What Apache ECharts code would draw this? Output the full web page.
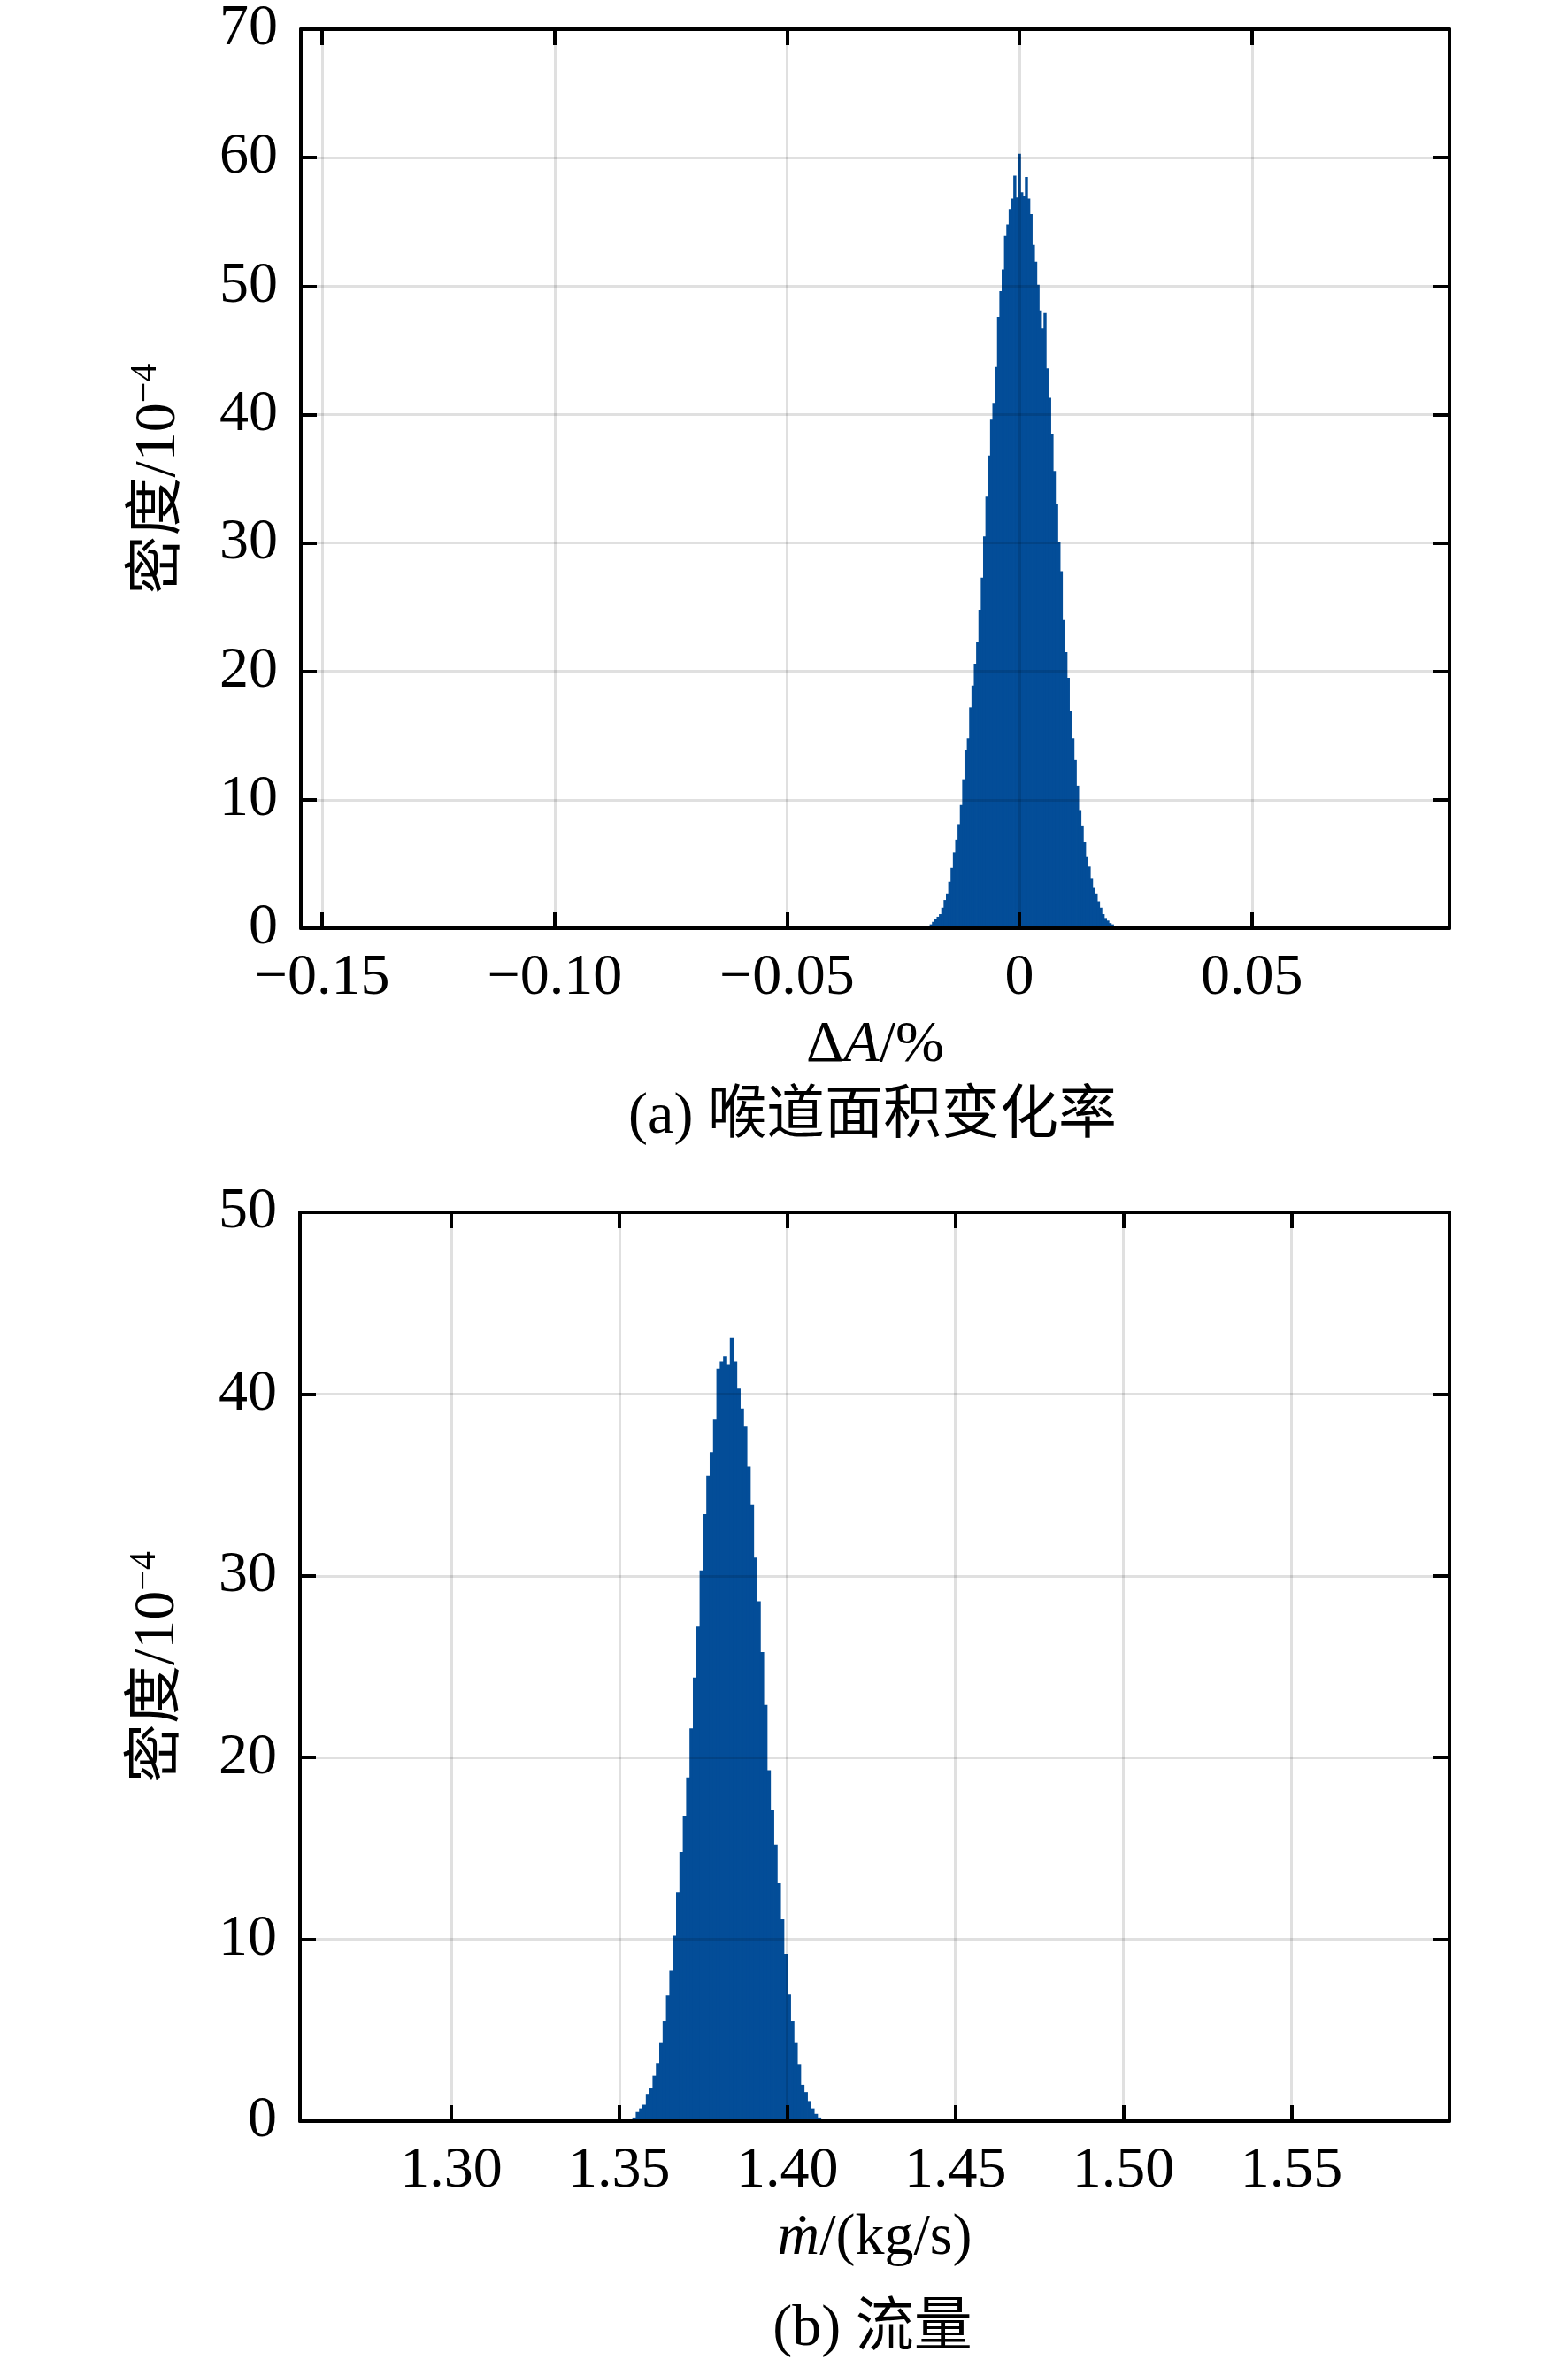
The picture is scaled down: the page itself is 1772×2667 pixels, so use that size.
<!DOCTYPE html>
<html>
<head>
<meta charset="utf-8">
<title>密度直方图</title>
<script src="https://cdn.jsdelivr.net/npm/echarts@6.0.0/dist/echarts.min.js"></script>
<style>
  html, body { margin: 0; padding: 0; background: #fff; }
  #main { width: 1772px; height: 2667px; }
</style>
</head>
<body>
<div id="main"></div>
<script>
// (a) 喉道面积变化率  bin centres (ΔA, %) and density (10^-4)
var areaBinWidth = 0.0005;
var areaCenters = [
  -0.0195, -0.0190, -0.0185, -0.0180, -0.0175, -0.0170, -0.0165, -0.0160, -0.0155, -0.0150,
  -0.0145, -0.0140, -0.0135, -0.0130, -0.0125, -0.0120, -0.0115, -0.0110, -0.0105, -0.0100,
  -0.0095, -0.0090, -0.0085, -0.0080, -0.0075, -0.0070, -0.0065, -0.0060, -0.0055, -0.0050,
  -0.0045, -0.0040, -0.0035, -0.0030, -0.0025, -0.0020, -0.0015, -0.0010, -0.0005, 0.0000,
  0.0005, 0.0010, 0.0015, 0.0020, 0.0025, 0.0030, 0.0035, 0.0040, 0.0045, 0.0050,
  0.0055, 0.0060, 0.0065, 0.0070, 0.0075, 0.0080, 0.0085, 0.0090, 0.0095, 0.0100,
  0.0105, 0.0110, 0.0115, 0.0120, 0.0125, 0.0130, 0.0135, 0.0140, 0.0145, 0.0150,
  0.0155, 0.0160, 0.0165, 0.0170, 0.0175, 0.0180, 0.0185, 0.0190, 0.0195, 0.0200,
  0.0205, 0.0210
];
var areaDensity = [
  0.1, 0.3, 0.5, 0.7, 0.9, 1.1, 1.6, 2.2, 2.7, 3.6,
  4.7, 5.9, 6.9, 8.1, 9.6, 11.6, 13.9, 14.8, 17.2, 18.9,
  20.6, 22.3, 24.8, 27.3, 30.5, 33.6, 36.8, 39.6, 40.9, 43.7,
  47.6, 49.6, 51.3, 53.9, 54.8, 56.0, 56.8, 58.6, 56.9, 60.3,
  57.3, 57.0, 58.5, 56.8, 55.6, 53.2, 51.9, 50.1, 48.1, 46.7,
  47.9, 43.6, 41.3, 38.5, 35.6, 33.0, 30.1, 27.8, 24.0, 21.5,
  19.5, 16.9, 14.8, 13.1, 11.1, 9.2, 8.0, 6.7, 5.6, 4.8,
  3.9, 3.2, 2.7, 2.1, 1.6, 1.1, 0.8, 0.6, 0.4, 0.3,
  0.2, 0.1
];

// (b) 流量  bin centres (kg/s) and density (10^-4)
var flowBinWidth = 0.001;
var flowCenters = [
  1.3545, 1.3555, 1.3565, 1.3575, 1.3585, 1.3595, 1.3605, 1.3615, 1.3625, 1.3635,
  1.3645, 1.3655, 1.3665, 1.3675, 1.3685, 1.3695, 1.3705, 1.3715, 1.3725, 1.3735,
  1.3745, 1.3755, 1.3765, 1.3775, 1.3785, 1.3795, 1.3805, 1.3815, 1.3825, 1.3835,
  1.3845, 1.3855, 1.3865, 1.3875, 1.3885, 1.3895, 1.3905, 1.3915, 1.3925, 1.3935,
  1.3945, 1.3955, 1.3965, 1.3975, 1.3985, 1.3995, 1.4005, 1.4015, 1.4025, 1.4035,
  1.4045, 1.4055, 1.4065, 1.4075, 1.4085, 1.4095
];
var flowDensity = [
  0.2, 0.5, 0.7, 0.9, 1.5, 1.8, 2.5, 3.2, 4.3, 5.5,
  6.9, 8.3, 10.2, 12.6, 14.8, 16.8, 18.9, 21.6, 24.4, 27.2,
  30.3, 33.4, 35.5, 36.8, 38.6, 41.4, 41.8, 42.1, 41.6, 43.1,
  41.8, 40.3, 39.2, 38.2, 36.0, 33.9, 31.0, 28.6, 25.8, 22.9,
  19.3, 17.1, 15.2, 13.1, 11.1, 9.2, 7.0, 5.5, 4.3, 3.1,
  2.0, 1.6, 1.1, 0.7, 0.4, 0.2
];

// axis ranges and tick steps
var areaRange = [-0.1546, 0.0925], areaStep = 0.05;
var flowRange = [1.255, 1.597], flowStep = 0.05;
var areaYMax = 70, flowYMax = 50, yStep = 10;

var barColor = '#034d98';
var serif = '"Liberation Serif", "Times New Roman", "Noto Sans CJK SC", serif';
var cjk = '"Liberation Serif", "Noto Sans CJK SC", serif';
var fs = 66;

function pairs(xs, ys) {
  var out = [];
  for (var i = 0; i < xs.length; i++) out.push([xs[i], ys[i]]);
  return out;
}

// only label multiples of the step (edge ticks stay blank)
function stepLabel(step, minusZero) {
  return function (v) {
    var k = Math.round(v / step);
    if (Math.abs(v - k * step) > 1e-9) return '';
    if (k === 0 && minusZero) return '0';
    var s = Math.abs(k * step).toFixed(2);
    return (k < 0 ? '\u2212' : '') + s;
  };
}

function histSeries(data, width, xi, yi) {
  return {
    type: 'custom',
    xAxisIndex: xi,
    yAxisIndex: yi,
    clip: true,
    z: 2,
    data: data,
    encode: { x: 0, y: 1 },
    renderItem: function (params, api) {
      var x = api.value(0), y = api.value(1);
      var p0 = api.coord([x - width / 2, y]);
      var p1 = api.coord([x + width / 2, 0]);
      // small overlap so neighbouring bins leave no seam
      return {
        type: 'rect',
        shape: { x: p0[0] - 0.4, y: p0[1], width: p1[0] - p0[0] + 0.8, height: p1[1] - p0[1] },
        style: { fill: barColor }
      };
    }
  };
}

var lineBlack = { show: true, onZero: false, lineStyle: { color: '#000', width: 4 } };
var tickIn = { show: true, inside: true, length: 18, lineStyle: { color: '#000', width: 4 } };
var gridTop = { show: true, lineStyle: { color: 'rgba(0,0,0,0.12)', width: 3 } };

function xPair(gi, range, step, fmt, nameRich) {
  return [
    { // bottom
      type: 'value', gridIndex: gi, position: 'bottom', z: 5,
      min: range[0], max: range[1], minInterval: step, maxInterval: step, splitNumber: 6,
      axisLine: lineBlack, axisTick: tickIn, splitLine: { show: false },
      axisLabel: { color: '#000', fontFamily: serif, fontSize: fs, margin: 24, formatter: fmt },
      name: nameRich, nameLocation: 'middle', nameGap: 100,
      nameTextStyle: {
        color: '#000', fontFamily: serif, fontSize: fs,
        rich: {
          d: { fontFamily: serif, fontSize: fs, color: '#000' },
          i: { fontFamily: serif, fontSize: fs, color: '#000', fontStyle: 'italic' }
        }
      }
    },
    { // top
      type: 'value', gridIndex: gi, position: 'top', z: 5,
      min: range[0], max: range[1], minInterval: step, maxInterval: step, splitNumber: 6,
      axisLine: lineBlack, axisTick: tickIn, axisLabel: { show: false },
      splitLine: gridTop
    }
  ];
}

function yPair(gi, max) {
  return [
    { // left
      type: 'value', gridIndex: gi, position: 'left', z: 5,
      min: 0, max: max, interval: yStep,
      axisLine: lineBlack, axisTick: tickIn, splitLine: { show: false },
      axisLabel: { color: '#000', fontFamily: serif, fontSize: fs, margin: 26 },
      name: '{c|密度/10}{s|\u22124}', nameLocation: 'middle', nameGap: 124, nameRotate: 90,
      nameTextStyle: {
        color: '#000', fontFamily: cjk, fontSize: fs,
        rich: {
          c: { fontFamily: cjk, fontSize: fs, color: '#000', lineHeight: 72 },
          s: { fontFamily: serif, fontSize: 42, color: '#000', verticalAlign: 'top', lineHeight: 72 }
        }
      }
    },
    { // right
      type: 'value', gridIndex: gi, position: 'right', z: 5,
      min: 0, max: max, interval: yStep,
      axisLine: lineBlack, axisTick: tickIn, axisLabel: { show: false },
      splitLine: gridTop
    }
  ];
}

var dom = document.getElementById('main');
var myChart = echarts.init(dom, null, { renderer: 'canvas' });

var option = {
  backgroundColor: '#fff',
  animation: false,
  grid: [
    { left: 340, top: 32, width: 1298, height: 1017 },
    { left: 339, top: 1370, width: 1299, height: 1027 }
  ],
  xAxis: [].concat(
    xPair(0, areaRange, areaStep, stepLabel(areaStep, true), '{d|Δ}{i|A}{d|/%}'),
    xPair(1, flowRange, flowStep, stepLabel(flowStep, false), '{i|ṁ}{d|/(kg/s)}')
  ),
  yAxis: [].concat(yPair(0, areaYMax), yPair(1, flowYMax)),
  series: [
    histSeries(pairs(areaCenters, areaDensity), areaBinWidth, 0, 0),
    histSeries(pairs(flowCenters, flowDensity), flowBinWidth, 2, 2)
  ],
  graphic: [
    {
      type: 'text', x: 986, y: 1263, z: 10,
      style: { text: '(a) 喉道面积变化率', font: fs + 'px ' + cjk, fill: '#000',
               textAlign: 'center', textVerticalAlign: 'middle' }
    },
    {
      type: 'text', x: 986, y: 2633, z: 10,
      style: { text: '(b) 流量', font: fs + 'px ' + cjk, fill: '#000',
               textAlign: 'center', textVerticalAlign: 'middle' }
    }
  ]
};

if (option && typeof option === 'object') {
  myChart.setOption(option, true);
}
</script>
</body>
</html>
